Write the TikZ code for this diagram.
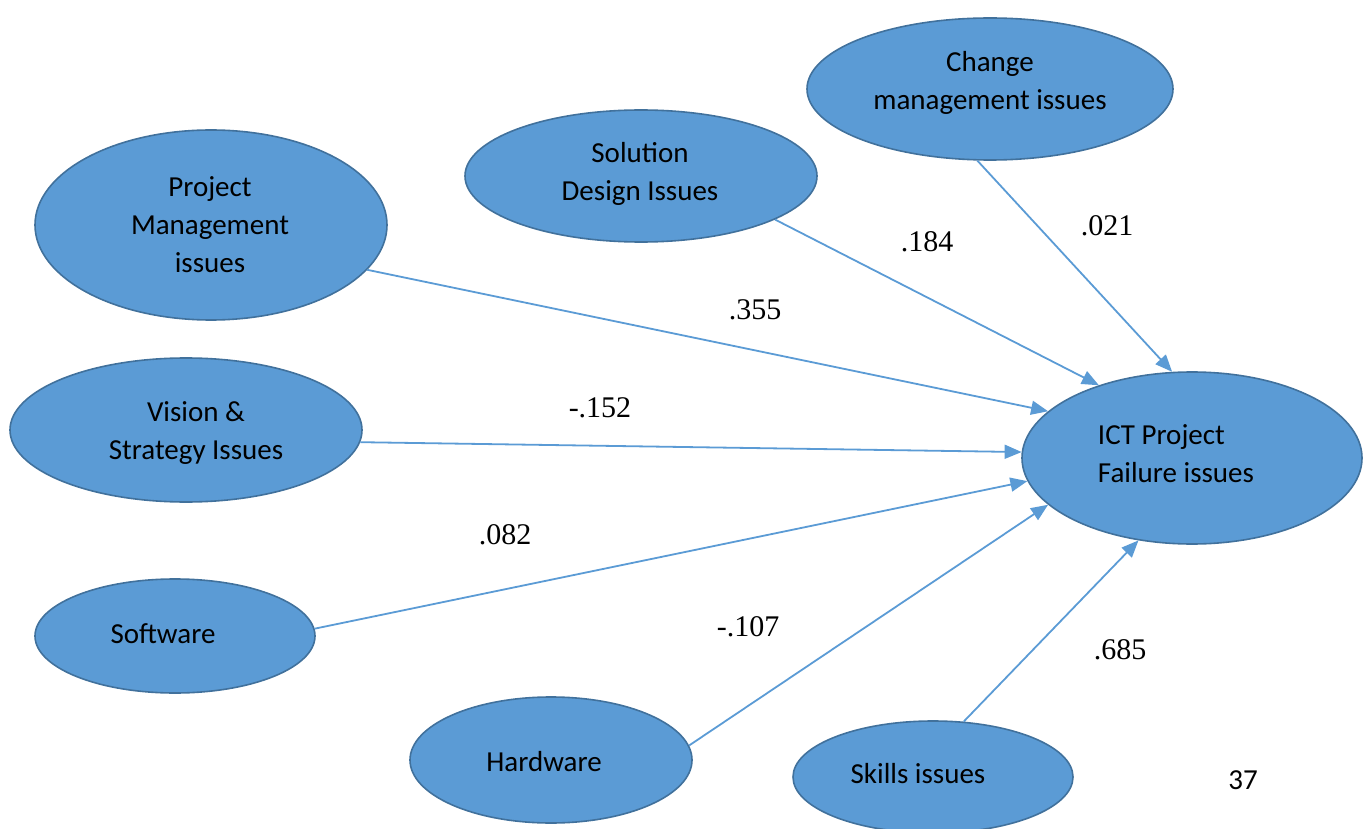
\documentclass[tikz,border=0pt]{standalone}
\usepackage{fontspec}
\setmainfont{Carlito}
\newfontfamily\numfont{Liberation Serif}
\usetikzlibrary{shapes.geometric,arrows.meta}
\definecolor{elfill}{RGB}{91,155,213}
\definecolor{eldraw}{RGB}{65,113,156}
\definecolor{arr}{RGB}{91,155,213}
\tikzset{
  el/.style={ellipse, fill=elfill, draw=eldraw, line width=1.6pt, inner sep=0pt},
  txt/.style={font=\fontsize{29}{38}\selectfont, align=center, inner sep=0pt},
  num/.style={font=\numfont\fontsize{30}{32}\selectfont, inner sep=0pt},
  conn/.style={draw=arr, line width=1.8pt, -{Triangle[length=17pt,width=14pt]}}
}
\begin{document}
\begin{tikzpicture}[x=1pt,y=-1pt]
\useasboundingbox (0,0) rectangle (1369,829);
% ellipses
\node[el, minimum width=366pt, minimum height=142pt] (chg) at (990,89) {};
\node[el, minimum width=352pt, minimum height=132pt] (sol) at (641,176) {};
\node[el, minimum width=352pt, minimum height=190pt] (pm) at (211,225) {};
\node[el, minimum width=352pt, minimum height=144pt] (vis) at (186,430) {};
\node[el, minimum width=280pt, minimum height=114pt] (sw) at (175,636) {};
\node[el, minimum width=282pt, minimum height=126pt] (hw) at (551,760) {};
\node[el, minimum width=280pt, minimum height=112pt] (sk) at (933,777) {};
\node[el, minimum width=340pt, minimum height=172pt] (ict) at (1192,458) {};
% texts
\node[txt] (chgT) at (990,83) {Change\\management issues};
\node[txt] (solT) at (640,174) {Solution\\Design Issues};
\node[txt] (pmT) at (210,225) {Project\\Management\\issues};
\node[txt] (visT) at (196,433) {Vision \&\\Strategy Issues};
\node[txt] (swT) at (163,634) {Software};
\node[txt] (hwT) at (544,762) {Hardware};
\node[txt] (skT) at (918,774) {Skills issues};
\node[txt, align=left] (ictT) at (1176,454) {ICT Project\\Failure issues};
\node[txt] (pg) at (1243,780) {37};
% connectors
\draw[conn] (pm.-16) -- (ict.162);
\draw[conn] (sol.-18) -- (ict.142);
\draw[conn] (chg.-100) -- (ict.103);
\draw[conn] (vis.-4) -- (ict.178);
\draw[conn] (sw.3) -- (ict.188);
\draw[conn] (hw.6) -- (ict.198);
\draw[conn] (sk.61) -- (ict.237);
% coefficient labels
\node[num] (l184) at (927,242) {.184};
\node[num] (l021) at (1107,226) {.021};
\node[num] (l355) at (755,310) {.355};
\node[num] (l152) at (600,408) {-.152};
\node[num] (l082) at (505,535) {.082};
\node[num] (l107) at (748,627) {-.107};
\node[num] (l685) at (1120,650) {.685};
\end{tikzpicture}
\end{document}
